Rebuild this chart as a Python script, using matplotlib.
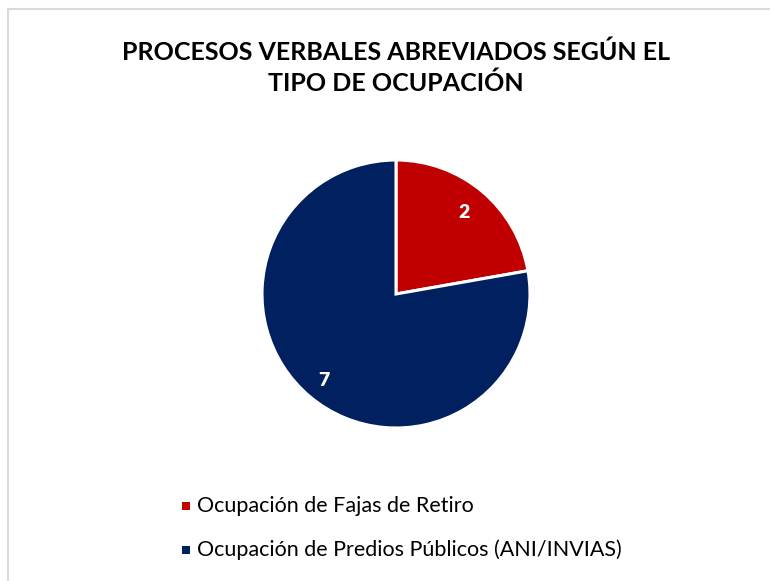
import matplotlib
matplotlib.use("Agg")
import matplotlib.pyplot as plt
from matplotlib.patches import Rectangle
from matplotlib.lines import Line2D
import numpy as np

categories = ["Ocupación de Fajas de Retiro", "Ocupación de Predios Públicos (ANI/INVIAS)"]
values = [2, 7]
colors = ["#C00000", "#002060"]
title = "PROCESOS VERBALES ABREVIADOS SEGÚN EL\nTIPO DE OCUPACIÓN"

W, H = 770, 581
fig = plt.figure(figsize=(W / 100, H / 100), dpi=100)
fig.patch.set_facecolor("white")

# border (top and left only visible)
bx, by = 7.5 / W, 1 - 8.5 / H
fig.add_artist(Line2D([bx, 1.0], [by, by], transform=fig.transFigure, color="#D9D9D9", linewidth=1.5))
fig.add_artist(Line2D([bx, bx], [0.0, by], transform=fig.transFigure, color="#D9D9D9", linewidth=1.5))

# pie axes: center (396, 294), radius ~134 px
cx, cy, r = 396, 294, 136
ax = fig.add_axes([(cx - r) / W, 1 - (cy + r) / H, 2 * r / W, 2 * r / H])
wedges, _ = ax.pie(values, colors=colors, startangle=90, counterclock=False,
                   wedgeprops=dict(edgecolor="white", linewidth=2.2), radius=1.0)
ax.set_xlim(-1.015, 1.015)
ax.set_ylim(-1.015, 1.015)
ax.set_aspect("equal")
ax.axis("off")

# data labels
for v, w, d in zip(values, wedges, [0.79, 0.84]):
    mid = np.deg2rad((w.theta1 + w.theta2) / 2)
    ax.text(d * np.cos(mid), d * np.sin(mid), str(v), ha="center", va="center",
            color="white", fontsize=14, fontweight="heavy", family="Lato")

fig.text(396 / W, 1 - 68 / H, title, ha="center", va="center", fontsize=18,
         fontweight="bold", family="Lato", linespacing=1.4, color="black")

# legend
ys = [506, 550]
for cat, col, y in zip(categories, colors, ys):
    fig.add_artist(Rectangle((182 / W, 1 - (y + 4) / H), 8 / W, 8 / H, transform=fig.transFigure,
                             facecolor=col, edgecolor="none"))
    fig.text(197 / W, 1 - y / H, cat, ha="left", va="center", fontsize=15.5, family="Lato",
             color="black")

fig.savefig("out.png", dpi=100, facecolor="white")
